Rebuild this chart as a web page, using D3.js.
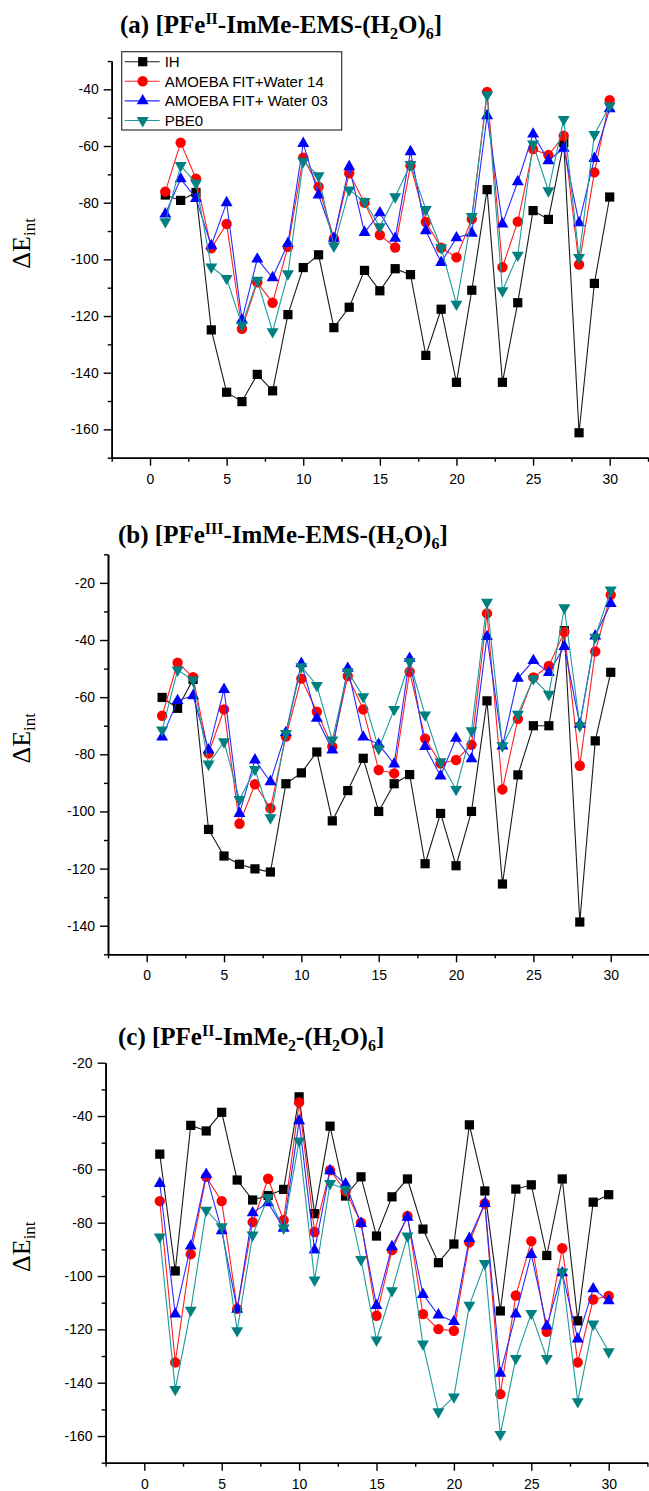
<!DOCTYPE html>
<html><head><meta charset="utf-8">
<script src="https://cdn.jsdelivr.net/npm/d3@7"></script>
<style>
body{margin:0;background:#fff;}
svg{display:block;}
.tick text{font-family:"Liberation Sans",Arial,sans-serif;font-size:14px;fill:#000;}
</style></head>
<body>
<svg id="chart" width="649" height="1491"></svg>
<script>
// ---- data ----
const structures = [1,2,3,4,5,6,7,8,9,10,11,12,13,14,15,16,17,18,19,20,21,22,23,24,25,26,27,28,29,30];
const seriesNames = ["IH","AMOEBA FIT+Water 14","AMOEBA FIT+ Water 03","PBE0"];
const xTickLabels = [0,5,10,15,20,25,30];

const aIH  = [-77.3,-79.2,-76.4,-124.9,-146.9,-150.2,-140.6,-146.4,-119.5,-102.9,-98.4,-124.1,-116.9,-103.9,-111.1,-103.3,-105.4,-133.9,-117.6,-143.4,-110.9,-75.4,-143.4,-115.3,-82.8,-85.9,-58.8,-161.2,-108.5,-78.0];
const aW14 = [-76.1,-58.8,-71.5,-96.1,-87.5,-124.5,-108.1,-115.3,-95.6,-64.1,-74.4,-92.6,-69.6,-80.0,-91.4,-95.8,-66.9,-86.8,-95.9,-99.3,-85.8,-40.9,-102.8,-86.7,-61.1,-63.2,-56.4,-101.8,-69.3,-43.8];
const aW03 = [-84.0,-71.6,-78.5,-95.2,-80.0,-121.4,-99.9,-106.5,-94.4,-59.1,-77.3,-92.6,-67.3,-90.5,-83.6,-92.6,-62.0,-89.9,-101.1,-92.4,-90.8,-49.3,-87.5,-72.6,-55.8,-65.2,-60.8,-87.1,-64.4,-46.9];
const aPBE = [-86.7,-66.9,-73.1,-102.7,-106.7,-123.2,-107.4,-125.5,-105.1,-65.4,-70.5,-95.3,-75.5,-79.6,-88.5,-77.9,-66.5,-82.4,-95.9,-115.8,-84.9,-42.0,-111.1,-98.5,-59.3,-75.8,-50.6,-99.3,-55.9,-45.9];
const aYTicks = [-40,-60,-80,-100,-120,-140,-160];

const bIH  = [-60.1,-63.9,-53.8,-106.3,-115.6,-118.5,-120.1,-121.2,-90.3,-86.5,-79.2,-103.3,-92.7,-81.4,-100.0,-90.3,-87.1,-118.3,-100.7,-119.0,-100.0,-61.3,-125.4,-87.2,-70.0,-70.0,-36.7,-138.7,-75.3,-51.3];
const bW14 = [-66.5,-47.9,-53.0,-79.7,-64.3,-104.3,-90.5,-98.9,-73.8,-53.5,-65.1,-77.3,-52.6,-64.3,-85.5,-86.7,-51.1,-74.5,-83.2,-82.0,-76.7,-30.7,-92.3,-67.6,-53.1,-49.1,-37.2,-84.0,-44.0,-24.2];
const bW03 = [-74.0,-61.2,-59.5,-78.5,-57.3,-100.7,-82.0,-89.6,-72.4,-48.2,-67.4,-78.5,-49.9,-74.0,-76.5,-83.4,-46.4,-77.3,-87.6,-74.4,-81.6,-38.8,-77.1,-53.4,-47.2,-51.4,-42.3,-69.5,-38.6,-27.2];
const bPBE = [-71.5,-50.5,-54.0,-83.4,-75.6,-95.8,-85.3,-102.2,-72.7,-49.3,-55.9,-75.0,-51.1,-59.8,-78.0,-64.3,-47.6,-66.2,-82.6,-92.3,-71.7,-26.8,-77.0,-66.0,-53.5,-59.0,-28.7,-70.0,-39.0,-22.5];
const bYTicks = [-20,-40,-60,-80,-100,-120,-140];

const cIH  = [-54.3,-98.1,-43.5,-45.6,-38.6,-64.0,-71.5,-69.8,-67.5,-32.8,-76.6,-43.8,-70.0,-62.8,-85.0,-70.3,-63.6,-82.4,-95.0,-88.0,-43.3,-68.1,-113.1,-67.4,-65.8,-92.3,-63.6,-116.8,-72.3,-69.5];
const cW14 = [-71.9,-132.4,-91.8,-62.8,-71.9,-112.3,-79.8,-63.5,-79.1,-34.9,-83.5,-60.3,-68.1,-80.0,-114.9,-90.3,-77.5,-114.3,-119.9,-120.5,-87.4,-72.8,-144.3,-107.3,-86.9,-120.9,-89.6,-132.4,-108.8,-107.5];
const cW03 = [-65.3,-114.3,-88.8,-61.9,-83.0,-112.5,-76.3,-72.5,-82.1,-41.8,-90.3,-60.5,-65.5,-80.3,-111.1,-89.0,-78.0,-106.9,-114.6,-117.1,-85.9,-72.8,-136.5,-114.3,-91.9,-118.8,-98.8,-123.6,-104.8,-109.3];
const cPBE = [-85.3,-142.5,-112.8,-75.3,-81.5,-120.5,-84.6,-70.5,-82.0,-49.3,-101.5,-65.3,-67.4,-93.8,-124.0,-105.5,-85.0,-125.5,-150.9,-145.3,-110.9,-95.3,-159.4,-130.9,-114.0,-130.9,-98.5,-147.1,-118.0,-128.4];
const cYTicks = [-20,-40,-60,-80,-100,-120,-140,-160];

// ---- styles ----
const styles = [
  {marker:"#000000", line:"#1a1a1a", sym:d3.symbolSquare, size:85, rot:0},
  {marker:"#ff0000", line:"#ff2020", sym:d3.symbolCircle, size:85, rot:0},
  {marker:"#0000ff", line:"#2a2aff", sym:d3.symbolTriangle, size:62, rot:0},
  {marker:"#008080", line:"#1f9a9a", sym:d3.symbolTriangle, size:62, rot:180}
];

const svg = d3.select("#chart");

function panel(cfg){
  const x = d3.scaleLinear().domain([-2.5,32.5]).range([cfg.x0,cfg.x1]);
  const y = d3.scaleLinear().domain(cfg.ydom).range([cfg.yb,cfg.yt]);
  const g = svg.append("g");

  // title
  const t = g.append("text").attr("x",cfg.tx).attr("y",cfg.ty)
    .attr("font-family","'Liberation Serif','Times New Roman',serif")
    .attr("font-weight","bold").attr("font-size",25).attr("fill","#000");
  cfg.title.forEach(p=>{
    const s = t.append("tspan").text(p[0]);
    if(p[1]==="sup"){ s.attr("font-size",16).attr("dy",-9); }
    else if(p[1]==="sub"){ s.attr("font-size",16).attr("dy",6); }
    if(p[2]) s.attr("dy",p[2]);
  });

  // y label
  const yl = g.append("text")
    .attr("transform",`translate(${cfg.ylx},${(cfg.yt+cfg.yb)/2-16}) rotate(-90)`)
    .attr("text-anchor","middle")
    .attr("font-family","'Liberation Serif','Times New Roman',serif")
    .attr("font-size",26).attr("fill","#000");
  yl.append("tspan").text("ΔE");
  yl.append("tspan").text("int").attr("font-size",17).attr("dy",5);

  // axes
  const minorY = d3.range(cfg.ydom[0], cfg.ydom[1]+1, 10).filter(v=>!cfg.yticks.includes(v));
  const minorX = [-2.5,2.5,7.5,12.5,17.5,22.5,27.5,32.5];
  g.append("g").attr("transform",`translate(${cfg.x0},0)`)
    .call(d3.axisLeft(y).tickValues(cfg.yticks).tickFormat(d=>String(d)).tickSize(8).tickPadding(5).tickSizeOuter(0));
  g.append("g").attr("transform",`translate(${cfg.x0},0)`)
    .call(d3.axisLeft(y).tickValues(minorY).tickSize(4).tickFormat("").tickSizeOuter(0));
  g.append("g").attr("transform",`translate(0,${cfg.yb})`)
    .call(d3.axisBottom(x).tickValues(xTickLabels).tickFormat(d=>String(d)).tickSize(8).tickPadding(8).tickSizeOuter(0));
  g.append("g").attr("transform",`translate(0,${cfg.yb})`)
    .call(d3.axisBottom(x).tickValues(minorX).tickSize(4).tickFormat("").tickSizeOuter(0));
  g.selectAll(".domain").attr("stroke","#000").attr("stroke-width",1.6);
  g.selectAll(".tick line").attr("stroke","#000").attr("stroke-width",1.4);

  // series
  cfg.series.forEach((vals,i)=>{
    const st = styles[i];
    const pts = structures.map((s,j)=>[s,vals[j]]);
    g.append("path").datum(pts)
      .attr("fill","none").attr("stroke",st.line).attr("stroke-width",1.1)
      .attr("d",d3.line().x(d=>x(d[0])).y(d=>y(d[1])));
    g.selectAll(null).data(pts).enter().append("path")
      .attr("d",d3.symbol().type(st.sym).size(st.size))
      .attr("transform",d=>`translate(${x(d[0])},${y(d[1])}) rotate(${st.rot})`)
      .attr("fill",st.marker);
  });

  // legend
  if(cfg.legend){
    const L = cfg.legend;
    const lg = g.append("g");
    lg.append("rect").attr("x",L.x).attr("y",L.y).attr("width",L.w).attr("height",L.h)
      .attr("fill","#fff").attr("stroke","#333").attr("stroke-width",1.2);
    seriesNames.forEach((n,i)=>{
      const st = styles[i];
      const yy = L.y + 10 + i*19.6;
      lg.append("line").attr("x1",L.x+3).attr("x2",L.x+38).attr("y1",yy).attr("y2",yy)
        .attr("stroke",st.line).attr("stroke-width",1.1);
      lg.append("path").attr("d",d3.symbol().type(st.sym).size(st.size))
        .attr("transform",`translate(${L.x+21},${yy}) rotate(${st.rot})`).attr("fill",st.marker);
      lg.append("text").attr("x",L.x+43).attr("y",yy+5.5).text(n)
        .attr("font-family","'Liberation Sans',Arial,sans-serif").attr("font-size",15).attr("fill","#000");
    });
  }
}

panel({x0:111.7,x1:648,yt:61,yb:457.7,ydom:[-170,-30],yticks:aYTicks,
  tx:120,ty:33,ylx:30,
  title:[["(a) [PFe"],["II","sup"],["-ImMe-EMS-(H",null,9],["2","sub"],["O)",null,-6],["6","sub"],["]",null,-6]],
  series:[aIH,aW14,aW03,aPBE],
  legend:{x:121.7,y:51.7,w:220,h:78.3}});

panel({x0:108,x1:649.4,yt:554.3,yb:954.3,ydom:[-150,-10],yticks:bYTicks,
  tx:118,ty:543,ylx:30,
  title:[["(b) [PFe"],["III","sup"],["-ImMe-EMS-(H",null,9],["2","sub"],["O)",null,-6],["6","sub"],["]",null,-6]],
  series:[bIH,bW14,bW03,bPBE]});

panel({x0:105.6,x1:647.4,yt:1062.7,yb:1462.7,ydom:[-170,-20],yticks:cYTicks,
  tx:118,ty:1045,ylx:30,
  title:[["(c) [PFe"],["II","sup"],["-ImMe",null,9],["2","sub"],["-(H",null,-6],["2","sub"],["O)",null,-6],["6","sub"],["]",null,-6]],
  series:[cIH,cW14,cW03,cPBE]});
</script>
</body></html>
